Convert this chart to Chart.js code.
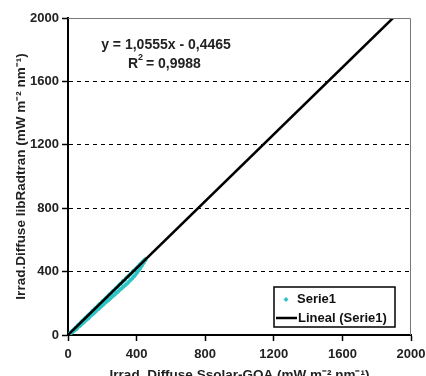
<!DOCTYPE html>
<html>
<head>
<meta charset="utf-8">
<script src="https://cdn.jsdelivr.net/npm/chart.js@4"></script>
<style>
  html, body { margin: 0; padding: 0; background: #fff; overflow: hidden; }
  #wrap { width: 426px; height: 384px; position: relative; }
</style>
</head>
<body>
<div id="wrap"><canvas id="chart"></canvas></div>
<script>
// measured points (Ssolar-GOA vs libRadtran)
const serieX = [3, 3, 10, 10, 20, 20, 30, 30, 40, 40, 50, 50, 60, 60, 70, 70, 80, 80, 90, 90,
  100, 100, 110, 110, 120, 120, 130, 130, 140, 140, 150, 150, 160, 160, 170, 170, 180, 180, 190, 190,
  200, 200, 210, 210, 220, 220, 230, 230, 240, 240, 250, 250, 260, 260, 270, 270, 280, 280, 290, 290,
  300, 300, 310, 310, 320, 320, 330, 330, 340, 340, 350, 350, 360, 360, 370, 370, 380, 380, 390, 390,
  400, 400, 410, 410, 420, 420, 430, 430, 440, 440, 450, 450];
const serieY = [4, 0, 11, 4, 22, 12, 30, 22, 43, 30, 52, 38, 64, 50, 73, 58, 86, 68, 94, 78,
  107, 88, 115, 98, 128, 106, 136, 118, 150, 128, 157, 136, 170, 146, 178, 158, 192, 166, 199, 176,
  213, 186, 220, 196, 234, 206, 241, 214, 255, 224, 262, 234, 276, 244, 283, 252, 297, 264, 304, 272,
  318, 282, 325, 292, 340, 302, 346, 310, 361, 320, 367, 330, 382, 342, 389, 352, 404, 364, 410, 376,
  425, 390, 434, 404, 446, 418, 456, 436, 468, 452, 478, 470];

// linear trend endpoints (y = 1,0555x - 0,4465)
const trendX = [0, 1895];
const trendY = [-0.45, 2000];

const xTicks = [0, 400, 800, 1200, 1600, 2000];
const yTicks = [0, 400, 800, 1200, 1600, 2000];

const eqLabel = "y = 1,0555x - 0,4465";
const r2Label = "0,9988";

const FONT = "'Liberation Sans', Arial, sans-serif";

const extras = {
  id: "extras",
  afterDraw(chart) {
    const ctx = chart.ctx;
    const a = chart.chartArea;
    ctx.save();
    // top / right frame
    ctx.strokeStyle = "#777";
    ctx.lineWidth = 1;
    ctx.beginPath();
    ctx.moveTo(a.left, a.top + 0.5);
    ctx.lineTo(a.right - 0.5, a.top + 0.5);
    ctx.lineTo(a.right - 0.5, a.bottom);
    ctx.stroke();

    // equation
    ctx.fillStyle = "#222";
    ctx.font = "bold 14px " + FONT;
    ctx.textAlign = "center";
    ctx.textBaseline = "middle";
    ctx.fillText(eqLabel, 166, 45);
    ctx.textAlign = "left";
    ctx.fillText("R", 128, 64);
    ctx.font = "bold 9px " + FONT;
    ctx.fillText("2", 138, 58);
    ctx.font = "bold 14px " + FONT;
    ctx.fillText(" = " + r2Label, 142, 64);

    // legend box
    const bx = 274, by = 287, bw = 121, bh = 40;
    ctx.fillStyle = "#fff";
    ctx.fillRect(bx, by, bw, bh);
    ctx.strokeStyle = "#000";
    ctx.lineWidth = 1.5;
    ctx.strokeRect(bx, by, bw, bh);
    ctx.fillStyle = "#2ec4c4";
    ctx.beginPath();
    ctx.moveTo(286, 297); ctx.lineTo(288.5, 299.5); ctx.lineTo(286, 302); ctx.lineTo(283.5, 299.5);
    ctx.closePath();
    ctx.fill();
    ctx.strokeStyle = "#000";
    ctx.lineWidth = 2.5;
    ctx.beginPath();
    ctx.moveTo(276, 318); ctx.lineTo(297, 318);
    ctx.stroke();
    ctx.fillStyle = "#111";
    ctx.font = "bold 13px " + FONT;
    ctx.textAlign = "left";
    ctx.fillText(chart.data.datasets[0].label, 297, 299);
    ctx.fillText(chart.data.datasets[1].label, 298, 318);
    ctx.restore();
  }
};

new Chart(document.getElementById("chart"), {
  type: "scatter",
  data: {
    datasets: [
      {
        label: "Serie1",
        data: serieX.map((x, i) => ({ x, y: serieY[i] })),
        backgroundColor: "#2ec4c4",
        borderColor: "#2ec4c4",
        pointStyle: "rectRot",
        pointRadius: 2.5,
        pointBorderWidth: 0,
        order: 2,
      },
      {
        label: "Lineal (Serie1)",
        type: "line",
        data: trendX.map((x, i) => ({ x, y: trendY[i] })),
        borderColor: "#000",
        borderWidth: 2.5,
        pointRadius: 0,
        fill: false,
        order: 1,
      },
    ],
  },
  options: {
    responsive: true,
    maintainAspectRatio: false,
    animation: false,
    layout: { padding: { left: 13, right: 15, top: 18, bottom: 0 } },
    plugins: { legend: { display: false }, tooltip: { enabled: false } },
    scales: {
      x: {
        type: "linear",
        min: 0,
        max: 2000,
        afterBuildTicks: (s) => { s.ticks = xTicks.map((v) => ({ value: v })); },
        afterFit: (s) => { s.height = 49; s.paddingLeft = 0; s.paddingRight = 0; },
        ticks: { color: "#222", font: { family: FONT, size: 13, weight: "bold" }, padding: 6, maxRotation: 0, callback: (v) => String(v) },
        grid: { drawOnChartArea: false, drawTicks: true, tickLength: 6, tickColor: "#000", tickWidth: 1.5 },
        border: { color: "#000", width: 2 },
        title: {
          display: true,
          text: "Irrad. Diffuse Ssolar-GOA (mW m\u207B\u00B2 nm\u207B\u00B9)",
          color: "#222",
          font: { family: FONT, size: 13.5, weight: "bold" },
          padding: { top: 0, bottom: 1 },
        },
      },
      y: {
        type: "linear",
        min: 0,
        max: 2000,
        afterBuildTicks: (s) => { s.ticks = yTicks.map((v) => ({ value: v })); },
        afterFit: (s) => { s.width = 55; s.paddingTop = 0; s.paddingBottom = 0; },
        ticks: { color: "#222", font: { family: FONT, size: 13, weight: "bold" }, padding: 3, callback: (v) => String(v) },
        grid: {
          color: (c) => (c.tick && (c.tick.value === 0 || c.tick.value === 2000) ? "rgba(0,0,0,0)" : "#000"),
          lineWidth: 1,
          drawTicks: true,
          tickLength: 6,
          tickColor: "#000",
          tickWidth: 1.5,
          tickBorderDash: [],
        },
        border: { color: "#000", width: 2, dash: [4, 4] },
        title: {
          display: true,
          text: "Irrad.Diffuse libRadtran (mW m\u207B\u00B2 nm\u207B\u00B9)",
          color: "#222",
          font: { family: FONT, size: 13.5, weight: "bold" },
          padding: { top: 0, bottom: 1 },
        },
      },
    },
  },
  plugins: [extras],
});
</script>
</body>
</html>
